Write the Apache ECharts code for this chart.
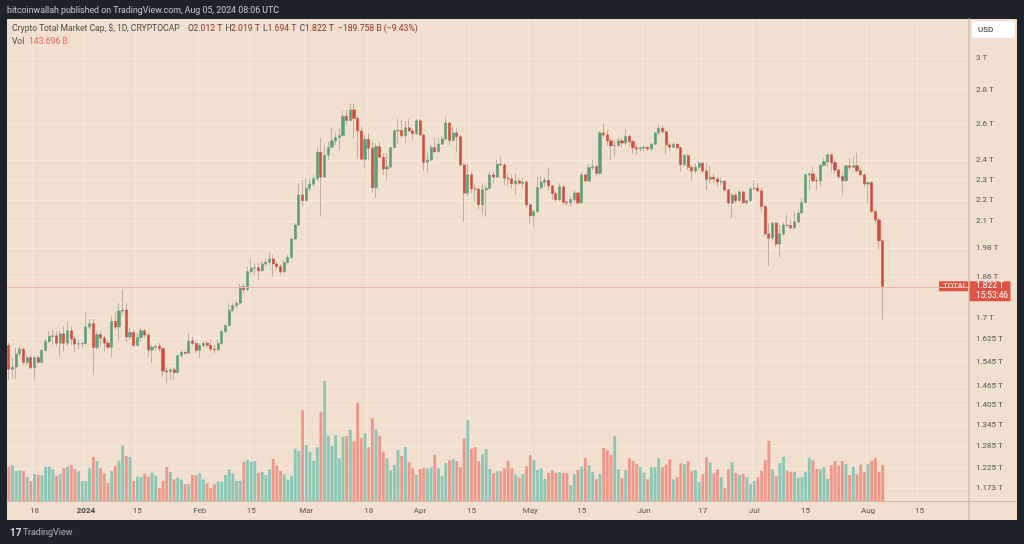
<!DOCTYPE html>
<html><head><meta charset="utf-8">
<script src="https://cdn.jsdelivr.net/npm/echarts@6/dist/echarts.min.js"></script>
<style>html,body{margin:0;padding:0;background:#1e222d;}#c{width:1024px;height:544px;}</style>
</head><body><div id="c"></div>
<script>
// ---- data ----
const startDate = '2023-12-11';
const categoryCount = 262; // daily slots shown on the time axis (data + empty right margin)
const xTickDates = ['2023-12-18','2024-01-01','2024-01-15','2024-02-01','2024-02-15','2024-03-01','2024-03-18','2024-04-01','2024-04-15','2024-05-01','2024-05-15','2024-06-01','2024-06-17','2024-07-01','2024-07-15','2024-08-01','2024-08-15'];
const xTickLabels = ['18','2024','15','Feb','15','Mar','18','Apr','15','May','15','Jun','17','Jul','15','Aug','15'];
const yTickValues = [3,2.8,2.6,2.4,2.3,2.2,2.1,1.98,1.86,1.7,1.625,1.545,1.465,1.405,1.345,1.285,1.225,1.173];
const yTickLabels = ['3 T','2.8 T','2.6 T','2.4 T','2.3 T','2.2 T','2.1 T','1.98 T','1.86 T','1.7 T','1.625 T','1.545 T','1.465 T','1.405 T','1.345 T','1.285 T','1.225 T','1.173 T'];
const priceRange = [1.1397, 3.267];   // T, visible price range
const volumeMax = 520;                // B, top of the volume pane

const open = [
1.601,1.520,1.527,1.572,1.588,1.543,1.559,1.525,1.559,1.543,
1.584,1.615,1.633,1.635,1.609,1.642,1.609,1.653,1.624,1.606,
1.607,1.608,1.667,1.679,1.594,1.639,1.627,1.609,1.595,1.687,
1.667,1.726,1.730,1.631,1.647,1.601,1.629,1.653,1.638,1.585,
1.595,1.598,1.590,1.514,1.511,1.518,1.509,1.566,1.577,1.574,
1.617,1.608,1.584,1.601,1.609,1.601,1.588,1.586,1.608,1.650,
1.672,1.729,1.747,1.756,1.820,1.809,1.881,1.896,1.897,1.885,
1.913,1.920,1.934,1.913,1.902,1.881,1.919,1.940,2.020,2.083,
2.224,2.197,2.257,2.277,2.305,2.442,2.313,2.426,2.469,2.503,
2.521,2.532,2.641,2.618,2.678,2.630,2.558,2.405,2.512,2.463,
2.260,2.472,2.415,2.354,2.365,2.466,2.558,2.561,2.532,2.576,
2.558,2.543,2.616,2.536,2.389,2.401,2.466,2.445,2.485,2.514,
2.603,2.506,2.547,2.526,2.375,2.233,2.324,2.254,2.253,2.177,
2.249,2.257,2.324,2.313,2.379,2.375,2.307,2.303,2.280,2.293,
2.282,2.287,2.177,2.126,2.145,2.260,2.287,2.297,2.269,2.231,
2.202,2.264,2.189,2.186,2.202,2.234,2.186,2.324,2.293,2.361,
2.366,2.332,2.547,2.536,2.503,2.477,2.478,2.503,2.492,2.528,
2.499,2.466,2.459,2.465,2.468,2.459,2.485,2.547,2.573,2.554,
2.481,2.469,2.485,2.466,2.377,2.424,2.363,2.344,2.363,2.384,
2.344,2.302,2.312,2.303,2.288,2.291,2.249,2.185,2.223,2.197,
2.239,2.187,2.197,2.254,2.257,2.244,2.169,2.043,2.024,2.091,
1.998,2.043,2.082,2.081,2.070,2.097,2.138,2.187,2.324,2.329,
2.295,2.294,2.373,2.392,2.428,2.387,2.349,2.315,2.295,2.370,
2.363,2.371,2.345,2.324,2.278,2.285,2.145,2.106,2.012];

const high = [
1.611,1.558,1.592,1.598,1.592,1.569,1.569,1.566,1.566,1.588,
1.624,1.651,1.657,1.651,1.655,1.669,1.687,1.669,1.633,1.621,
1.612,1.724,1.696,1.696,1.651,1.651,1.635,1.621,1.705,1.724,
1.756,1.808,1.756,1.663,1.657,1.645,1.663,1.660,1.645,1.603,
1.603,1.609,1.592,1.527,1.524,1.527,1.569,1.584,1.580,1.645,
1.633,1.615,1.609,1.615,1.617,1.621,1.603,1.621,1.657,1.681,
1.756,1.756,1.765,1.831,1.831,1.902,1.934,1.916,1.916,1.926,
1.934,1.963,1.952,1.923,1.912,1.930,1.952,2.026,2.091,2.282,
2.298,2.307,2.307,2.324,2.472,2.521,2.481,2.499,2.576,2.550,
2.573,2.672,2.678,2.716,2.716,2.639,2.582,2.536,2.545,2.499,
2.490,2.499,2.436,2.436,2.472,2.569,2.626,2.620,2.610,2.626,
2.573,2.626,2.626,2.539,2.445,2.481,2.518,2.518,2.532,2.639,
2.610,2.582,2.573,2.536,2.384,2.384,2.340,2.282,2.257,2.282,
2.273,2.340,2.340,2.401,2.419,2.384,2.332,2.324,2.332,2.307,
2.307,2.298,2.185,2.153,2.315,2.320,2.310,2.361,2.273,2.241,
2.282,2.273,2.195,2.216,2.249,2.237,2.337,2.332,2.375,2.401,
2.375,2.558,2.601,2.563,2.518,2.508,2.518,2.518,2.573,2.539,
2.508,2.481,2.472,2.481,2.472,2.490,2.554,2.595,2.591,2.563,
2.495,2.499,2.490,2.472,2.431,2.431,2.375,2.384,2.396,2.392,
2.384,2.370,2.332,2.315,2.307,2.298,2.252,2.233,2.233,2.249,
2.246,2.203,2.265,2.298,2.282,2.257,2.172,2.091,2.098,2.098,
2.083,2.094,2.130,2.106,2.145,2.150,2.208,2.332,2.335,2.366,
2.315,2.380,2.410,2.436,2.436,2.401,2.353,2.340,2.375,2.410,
2.419,2.439,2.358,2.332,2.290,2.290,2.153,2.114,2.019];

const low = [
1.485,1.488,1.487,1.563,1.535,1.532,1.520,1.483,1.539,1.539,
1.580,1.609,1.603,1.598,1.563,1.580,1.598,1.603,1.577,1.586,
1.592,1.603,1.655,1.501,1.586,1.598,1.580,1.586,1.561,1.657,
1.619,1.711,1.615,1.619,1.598,1.598,1.615,1.627,1.561,1.543,
1.586,1.580,1.496,1.474,1.485,1.487,1.505,1.558,1.568,1.571,
1.601,1.575,1.558,1.592,1.594,1.580,1.575,1.583,1.603,1.645,
1.669,1.722,1.737,1.750,1.795,1.804,1.875,1.868,1.845,1.881,
1.902,1.909,1.861,1.888,1.868,1.875,1.912,1.937,2.016,2.079,
2.169,2.192,2.241,2.265,2.293,2.122,2.307,2.401,2.463,2.481,
2.449,2.526,2.591,2.610,2.518,2.410,2.401,2.358,2.401,2.236,
2.208,2.410,2.324,2.298,2.358,2.463,2.490,2.518,2.490,2.554,
2.508,2.536,2.526,2.344,2.337,2.396,2.436,2.441,2.481,2.508,
2.481,2.499,2.445,2.366,2.098,2.216,2.233,2.192,2.153,2.130,
2.122,2.249,2.282,2.307,2.371,2.273,2.265,2.257,2.224,2.273,
2.257,2.161,2.091,2.076,2.138,2.249,2.265,2.244,2.200,2.189,
2.195,2.177,2.173,2.169,2.189,2.180,2.181,2.290,2.290,2.349,
2.320,2.324,2.526,2.477,2.401,2.419,2.472,2.466,2.481,2.472,
2.436,2.430,2.445,2.445,2.449,2.451,2.481,2.536,2.545,2.430,
2.445,2.463,2.454,2.340,2.371,2.349,2.298,2.332,2.349,2.332,
2.249,2.282,2.282,2.265,2.273,2.241,2.177,2.114,2.185,2.192,
2.181,2.177,2.192,2.249,2.236,2.145,2.031,1.905,2.016,1.987,
1.942,2.034,2.073,2.061,2.064,2.091,2.134,2.185,2.249,2.285,
2.249,2.265,2.366,2.366,2.340,2.332,2.302,2.224,2.290,2.349,
2.358,2.335,2.315,2.265,2.185,2.140,2.091,1.973,1.694];

const close = [
1.520,1.527,1.572,1.588,1.543,1.559,1.525,1.559,1.543,1.584,
1.615,1.633,1.635,1.609,1.642,1.609,1.653,1.624,1.606,1.607,
1.608,1.667,1.679,1.594,1.639,1.627,1.609,1.595,1.687,1.667,
1.726,1.730,1.631,1.647,1.601,1.629,1.653,1.638,1.585,1.595,
1.598,1.590,1.514,1.511,1.518,1.509,1.566,1.577,1.574,1.617,
1.608,1.584,1.601,1.609,1.601,1.588,1.586,1.608,1.650,1.672,
1.729,1.747,1.756,1.820,1.809,1.881,1.896,1.897,1.885,1.913,
1.920,1.934,1.913,1.902,1.881,1.919,1.940,2.020,2.083,2.224,
2.197,2.257,2.277,2.305,2.442,2.313,2.426,2.469,2.503,2.521,
2.532,2.641,2.618,2.678,2.630,2.558,2.405,2.512,2.463,2.260,
2.472,2.415,2.354,2.365,2.466,2.558,2.561,2.532,2.576,2.558,
2.543,2.616,2.536,2.389,2.401,2.466,2.445,2.485,2.514,2.603,
2.506,2.547,2.526,2.375,2.233,2.324,2.254,2.253,2.177,2.249,
2.257,2.324,2.313,2.379,2.375,2.307,2.303,2.280,2.293,2.282,
2.287,2.177,2.126,2.145,2.260,2.287,2.297,2.269,2.231,2.202,
2.264,2.189,2.186,2.202,2.234,2.186,2.324,2.293,2.361,2.366,
2.332,2.547,2.536,2.503,2.477,2.478,2.503,2.492,2.528,2.499,
2.466,2.459,2.465,2.468,2.459,2.485,2.547,2.573,2.554,2.481,
2.469,2.485,2.466,2.377,2.424,2.363,2.344,2.363,2.384,2.344,
2.302,2.312,2.303,2.288,2.291,2.249,2.185,2.223,2.197,2.239,
2.187,2.197,2.254,2.257,2.244,2.169,2.043,2.024,2.091,1.998,
2.043,2.082,2.081,2.070,2.097,2.138,2.187,2.324,2.329,2.295,
2.294,2.373,2.392,2.428,2.387,2.349,2.315,2.295,2.370,2.363,
2.371,2.345,2.324,2.278,2.285,2.145,2.106,2.012,1.822];

const volume = [
137,144,120,123,120,96,80,108,105,103,
136,137,128,101,108,132,137,144,127,119,
80,80,131,176,160,131,109,73,119,141,
161,223,180,176,80,97,97,109,97,113,
101,52,81,136,116,87,93,85,67,68,
104,104,111,87,71,52,67,79,76,104,
127,111,80,80,156,164,157,160,113,116,
104,127,169,143,120,107,85,101,209,200,
363,224,197,161,215,356,481,261,220,263,
171,257,260,284,239,393,252,271,215,331,
287,261,197,171,123,144,204,180,216,155,
131,104,128,133,130,134,185,131,99,152,
163,167,160,135,251,324,209,216,159,187,
208,128,111,119,119,131,160,131,105,93,
108,139,184,165,124,131,88,113,123,113,
115,112,112,64,108,124,137,172,143,116,
87,108,212,203,185,260,127,92,125,172,
160,149,136,113,87,135,135,171,135,145,
167,87,96,151,147,159,119,124,75,107,
175,155,111,127,95,52,127,155,112,104,
109,95,68,80,95,120,163,240,127,99,
152,177,120,115,117,93,95,117,173,163,
129,127,135,88,144,160,141,160,147,104,
136,107,145,116,148,161,171,117,143.696];

// ---- styles ----
const UP = '#5f9e7b', DOWN = '#cf4e3f', WICK = '#bdafa5';
const VOL_UP = '#8cc6b5', VOL_DOWN = '#f0978c';
const BG = '#f1dfcf', FRAME = '#1e222d', GRID = 'rgba(255,255,255,0.28)', AXIS = '#cdbcab';
const FONT = 'Roboto, "Liberation Sans", sans-serif';

// ---- build ----
const dates = [];
const d0 = new Date(startDate + 'T00:00:00Z').getTime();
for (let i = 0; i < categoryCount; i++) dates.push(new Date(d0 + i * 86400000).toISOString().slice(0, 10));
const L = Math.log10;
const isTick = (idx, val) => xTickDates.indexOf(val) >= 0;
const wickData = open.map((o, i) => [L(o), L(close[i]), L(low[i]), L(high[i])]);
const bodyData = open.map((o, i) => [L(o), L(close[i]), L(Math.min(o, close[i])), L(Math.max(o, close[i]))]);
const volData = volume.map((v, i) => ({ value: v, itemStyle: { color: close[i] >= open[i] ? VOL_UP : VOL_DOWN } }));
const yCustom = yTickValues.map(L);

const option = {
  backgroundColor: FRAME,
  animation: false,
  grid: [
    { left: 7, right: 55, top: 19, bottom: 43, containLabel: false, outerBoundsMode: 'none' },
    { left: 7, right: 55, top: 371, height: 130, containLabel: false, outerBoundsMode: 'none' }
  ],
  xAxis: [
    { type: 'category', data: dates, gridIndex: 0, boundaryGap: true,
      axisLine: { show: true, lineStyle: { color: AXIS, width: 1 } },
      axisTick: { show: false },
      axisLabel: { interval: isTick, margin: 6, fontSize: 8, color: '#555', fontFamily: FONT,
        formatter: v => { const t = xTickLabels[xTickDates.indexOf(v)]; return t === '2024' ? '{b|2024}' : t; },
        rich: { b: { fontWeight: 'bold', fontSize: 8, color: '#444', fontFamily: FONT } } },
      splitLine: { show: true, interval: isTick, lineStyle: { color: GRID, width: 1 } } },
    { type: 'category', data: dates, gridIndex: 1, boundaryGap: true, show: false }
  ],
  yAxis: [
    { type: 'value', gridIndex: 0, position: 'right', min: L(priceRange[0]), max: L(priceRange[1]), scale: true,
      axisLine: { show: true, lineStyle: { color: AXIS, width: 1.5 } },
      axisTick: { show: false, customValues: yCustom },
      axisLabel: { customValues: yCustom, margin: 7, fontSize: 8, color: '#555', fontFamily: FONT,
        formatter: v => { let best = 0; yCustom.forEach((c, j) => { if (Math.abs(c - v) < Math.abs(yCustom[best] - v)) best = j; }); return yTickLabels[best]; } },
      splitLine: { show: true, lineStyle: { color: GRID, width: 1 } } },
    { type: 'value', gridIndex: 1, min: 0, max: volumeMax, show: false, splitLine: { show: false } }
  ],
  series: [
    { type: 'bar', xAxisIndex: 1, yAxisIndex: 1, data: volData, barCategoryGap: '22%', z: 1, silent: true },
    { type: 'candlestick', xAxisIndex: 0, yAxisIndex: 0, data: wickData, barWidth: 1, z: 2, silent: true,
      itemStyle: { color: WICK, color0: WICK, borderColor: WICK, borderColor0: WICK, borderWidth: 1 } },
    { type: 'candlestick', xAxisIndex: 0, yAxisIndex: 0, data: bodyData, barWidth: 2.6, z: 3, silent: true,
      itemStyle: { color: UP, color0: DOWN, borderColor: UP, borderColor0: DOWN, borderWidth: 0.6 },
      markLine: { silent: true, symbol: 'none', label: { show: false },
        lineStyle: { color: '#eeb5a6', type: 'solid', width: 1 },
        data: [{ yAxis: L(close[close.length - 1]) }] } }
  ]
};

const chart = echarts.init(document.getElementById('c'));
chart.setOption(option);
const lastClose = close[close.length - 1];
const lineY = chart.convertToPixel({ yAxisIndex: 0 }, L(lastClose));
const txt = (x, y, text, fill, size, weight) => ({ type: 'text', x, y, silent: true,
  style: { text, fill, fontSize: size || 8.6, fontFamily: FONT, fontWeight: weight || 'normal', verticalAlign: 'middle' } });
const HDR = '#8c3228';
chart.setOption({
  graphic: { elements: [
    { type: 'rect', z: -10, silent: true, shape: { x: 7, y: 19, width: 1010, height: 501 }, style: { fill: BG } },
    { type: 'line', silent: true, shape: { x1: 969, y1: 501, x2: 969, y2: 520 }, style: { stroke: AXIS, lineWidth: 1.5 } },
    { type: 'line', silent: true, shape: { x1: 969, y1: 501.5, x2: 1017, y2: 501.5 }, style: { stroke: AXIS, lineWidth: 1 } },
    txt(7, 11, 'bitcoinwallah published on TradingView.com, Aug 05, 2024 08:06 UTC', '#c9ccd4', 8.8),
    txt(12, 29, 'Crypto Total Market Cap, $, 1D, CRYPTOCAP', '#4a4a4a'),
    txt(188, 29, 'O', '#4a4a4a'), txt(193.5, 29, '2.012 T', HDR),
    txt(225.5, 29, 'H', '#4a4a4a'), txt(231, 29, '2.019 T', HDR),
    txt(263, 29, 'L', '#4a4a4a'), txt(267.5, 29, '1.694 T', HDR),
    txt(299.5, 29, 'C', '#4a4a4a'), txt(305, 29, '1.822 T', HDR),
    txt(338, 29, '\u2212189.758 B (\u22129.43%)', HDR),
    txt(12, 42, 'Vol', '#4a4a4a'), txt(29, 42, '143.696 B', '#f0655a'),
    { type: 'rect', silent: true, shape: { x: 972, y: 21, width: 43, height: 17, r: 3 }, style: { fill: '#ffffff' } },
    txt(978, 29.5, 'USD', '#222', 8),
    { type: 'rect', silent: true, shape: { x: 939, y: lineY - 5, width: 29.5, height: 10 }, style: { fill: '#dd5443' } },
    txt(943, lineY, 'TOTAL', '#ffffff', 8),
    { type: 'rect', silent: true, shape: { x: 969, y: lineY - 5, width: 41.5, height: 20 }, style: { fill: '#dd5443' } },
    txt(976, lineY, lastClose.toFixed(3) + ' T', '#ffffff', 8.3),
    txt(976, lineY + 9.5, '15:53:46', '#ffffff', 8.3),
    txt(10, 533, '17', '#d1d4dc', 10, 'bold'),
    txt(23, 533, 'TradingView', '#b2b5be', 9)
  ] }
});
</script>
</body></html>
